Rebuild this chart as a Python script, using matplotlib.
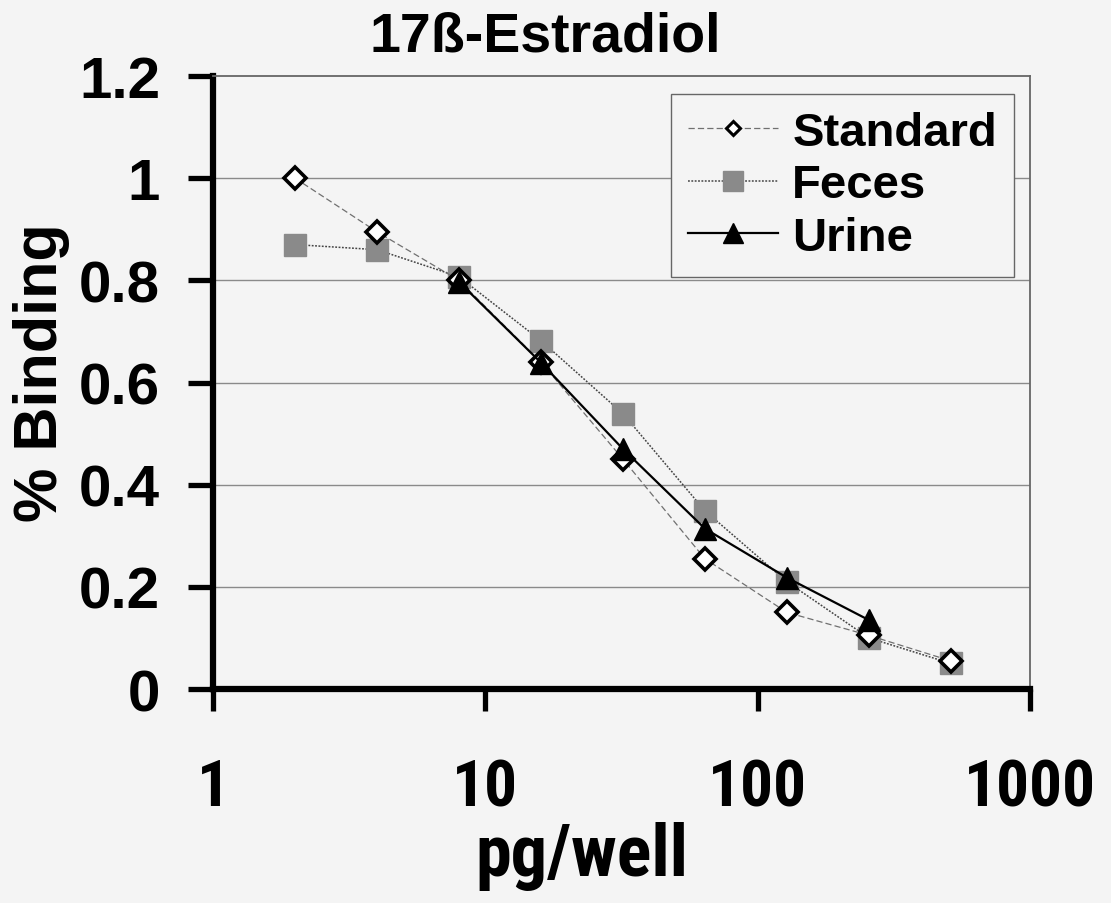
import matplotlib
matplotlib.use("Agg")
import matplotlib.pyplot as plt
from matplotlib import font_manager
from matplotlib.ticker import FixedLocator, NullLocator

title = "17ß-Estradiol"
x_label = "pg/well"
y_label = "% Binding"

std_x = [2, 4, 8, 16, 32, 64, 128, 256, 512]
std_y = [1.0, 0.895, 0.80, 0.64, 0.45, 0.255, 0.15, 0.105, 0.055]
fec_x = [2, 4, 8, 16, 32, 64, 128, 256, 512]
fec_y = [0.87, 0.86, 0.807, 0.682, 0.539, 0.349, 0.21, 0.10, 0.05]
uri_x = [8, 16, 32, 64, 128, 256]
uri_y = [0.797, 0.639, 0.47, 0.314, 0.218, 0.135]

x_ticks = [1, 10, 100, 1000]
x_ticklabels = ["1", "10", "100", "1000"]
y_ticks = [0, 0.2, 0.4, 0.6, 0.8, 1.0, 1.2]
y_ticklabels = ["0", "0.2", "0.4", "0.6", "0.8", "1", "1.2"]

narrow_name = None
cands = []
for f in font_manager.fontManager.ttflist:
    w = f.weight if isinstance(f.weight, int) else (700 if str(f.weight) == "bold" else 400)
    if ("Narrow" in f.name or "Condensed" in f.name) and w >= 700:
        cands.append(f.name)
for pref in ("Liberation Sans Narrow", "Arial Narrow", "Roboto Condensed"):
    if pref in cands:
        narrow_name = pref
        break
if narrow_name is None and cands:
    narrow_name = sorted(cands)[0]

bold = ["Liberation Sans", "DejaVu Sans"]
narrow = ([narrow_name] if narrow_name else []) + bold
tick_x_size = 47 if narrow_name else 41
xlab_size = 52 if narrow_name else 43

W, H = 1111, 904
bg = "#f4f4f4"
fig = plt.figure(figsize=(W/100, H/100), dpi=100, facecolor=bg)
L, R, T, B = 213, 1030, 77, 690
ax = fig.add_axes([L/W, 1 - B/H, (R-L)/W, (B-T)/H])
ax.set_facecolor(bg)

ax.set_xscale("log")
ax.set_xlim(1, 1000)
ax.set_ylim(0, 1.2)

for y in y_ticks[1:-1]:
    ax.axhline(y, color="#8a8a8a", lw=1.0, zorder=1)

ax.plot(std_x, std_y, linestyle=(0, (5, 2.5)), color="#707070", lw=0.9,
        marker="D", markersize=11, markerfacecolor="white",
        markeredgecolor="black", markeredgewidth=2.6, label="Standard", zorder=4)
ax.plot(fec_x, fec_y, linestyle=(0, (1.2, 1)), color="#444444", lw=1.1,
        marker="s", markersize=15.5, markerfacecolor="#8a8a8a",
        markeredgecolor="#8a8a8a", label="Feces", zorder=3)
ax.plot(uri_x, uri_y, linestyle="-", color="black", lw=1.6,
        marker="^", markersize=16, markerfacecolor="black",
        markeredgecolor="black", label="Urine", zorder=5)

ax.xaxis.set_major_locator(FixedLocator(x_ticks))
ax.xaxis.set_minor_locator(NullLocator())
ax.set_xticklabels(x_ticklabels, fontfamily=narrow, fontweight="bold", fontsize=tick_x_size)
ax.set_yticks(y_ticks)
ax.set_yticklabels(y_ticklabels, fontfamily=bold, fontweight="bold", fontsize=42)

ax.tick_params(axis="x", direction="out", length=16, width=3.8, pad=33, color="black")
ax.tick_params(axis="y", direction="out", length=18, width=3.8, pad=20, color="black")

ax.spines["left"].set_linewidth(4.5)
ax.spines["bottom"].set_linewidth(4.5)
for s in ("top", "right"):
    ax.spines[s].set_linewidth(1.3)
    ax.spines[s].set_color("#666666")

ax.set_xlabel(x_label, fontfamily=narrow, fontweight="bold", fontsize=xlab_size)
ax.xaxis.set_label_coords((582 - L) / (R - L), (B - 822) / (B - T))
ax.set_ylabel(y_label, fontfamily=bold, fontweight="bold", fontsize=44)
ax.yaxis.set_label_coords((70 - L) / (R - L), (B - 373) / (B - T))
fig.text(545/W, 1 - 37/H, title, ha="center", va="center",
         fontfamily=bold, fontweight="bold", fontsize=40)

leg = ax.legend(loc="upper right",
                bbox_to_anchor=((1014 - L) / (R - L), (B - 95) / (B - T)),
                borderaxespad=0,
                prop={"family": bold, "weight": "bold", "size": 34},
                frameon=True, fancybox=False, edgecolor="#666666", facecolor=bg,
                handlelength=1.9, handletextpad=0.3, labelspacing=0.18,
                borderpad=0.36)
leg.get_frame().set_linewidth(1.0)
leg.get_frame().set_alpha(1)
hs = leg.legend_handles
hs[0].set_markersize(7.5)
hs[0].set_markeredgewidth(2.2)
hs[1].set_markersize(14)
hs[2].set_markersize(14)

fig.savefig("out.png", dpi=100, facecolor=bg)
